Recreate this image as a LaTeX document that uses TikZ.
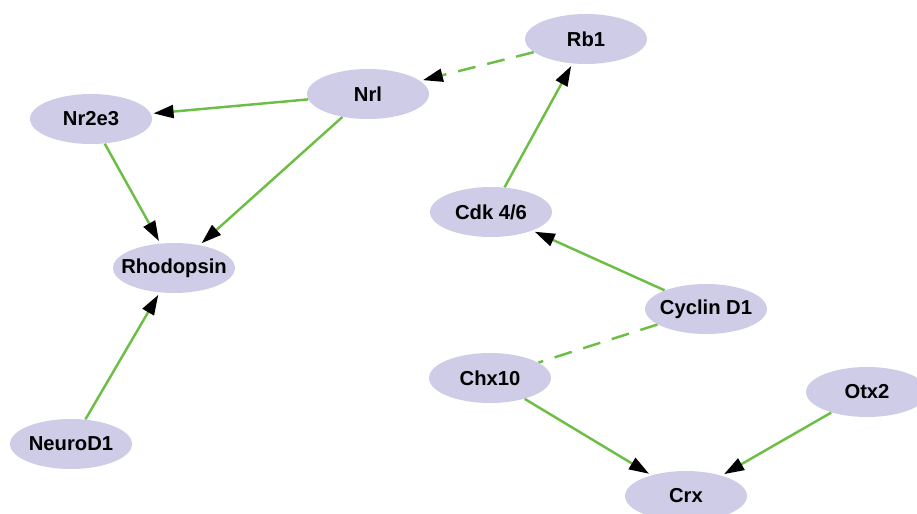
\documentclass[tikz,border=0pt]{standalone}
\usepackage{fontspec}
\setsansfont{Liberation Sans}
\usetikzlibrary{shapes.geometric, arrows.meta}
\definecolor{genefill}{RGB}{206,204,230}
\definecolor{linkgreen}{RGB}{108,190,69}

\begin{document}
\begin{tikzpicture}[x=0.02cm, y=-0.02cm,
  gene/.style={ellipse, fill=genefill, minimum width=2.44cm, minimum height=1cm,
    inner xsep=-7pt, inner ysep=0pt, font=\sffamily\bfseries\fontsize{11.5}{13}\selectfont},
  link/.style={draw=linkgreen, line width=1.4pt, shorten >=1.5pt,
    -{Triangle[length=0.4cm, width=0.26cm, color=black]}},
  inhib/.style={link, dash pattern=on 0.36cm off 0.24cm},
  assoc/.style={draw=linkgreen, line width=1.4pt, dash pattern=on 0.36cm off 0.24cm}]
\useasboundingbox (0,0) rectangle (917,514);
\node[gene] (rb1) at (586,39) {Rb1};
\node[gene] (nrl) at (368,94) {Nrl};
\node[gene] (nr2e3) at (91,119) {Nr2e3};
\node[gene] (rhodopsin) at (174,268) {Rhodopsin};
\node[gene] (neurod1) at (71,444) {NeuroD1};
\node[gene] (cdk) at (491,212) {Cdk 4/6};
\node[gene] (cyclind1) at (706,309) {Cyclin D1};
\node[gene] (chx10) at (490,378) {Chx10};
\node[gene] (otx2) at (867,392) {Otx2};
\node[gene] (crx) at (686,496) {Crx};

\draw[inhib] (rb1) -- (nrl);
\draw[link] (cdk) -- (rb1);
\draw[link] (nrl) -- (nr2e3);
\draw[link] (nrl) -- (rhodopsin);
\draw[link] (nr2e3) -- (rhodopsin);
\draw[link] (neurod1) -- (rhodopsin);
\draw[link] (cyclind1) -- (cdk);
\draw[assoc] (cyclind1) -- (chx10);
\draw[link] (chx10) -- (crx);
\draw[link] (otx2) -- (crx);
\end{tikzpicture}
\end{document}
